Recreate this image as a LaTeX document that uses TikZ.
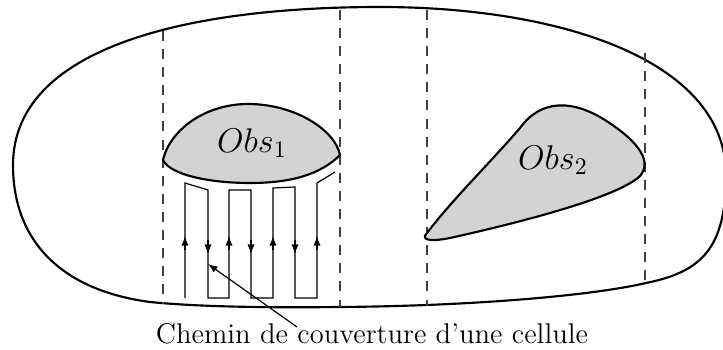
\documentclass[tikz,border=0pt]{standalone}
\usetikzlibrary{arrows.meta}

\definecolor{obsgray}{RGB}{211,211,211}

\begin{document}
\begin{tikzpicture}[
    x=0.42pt, y=-0.42pt,
    wall/.style={line width=0.9pt, line join=round},
    obstacle/.style={wall, fill=obsgray},
    cellline/.style={dashed, dash pattern=on 4.2pt off 3.4pt, draw=black!75, line width=0.45pt},
    sweep/.style={line width=0.5pt, line join=miter},
    tip/.style={-{Latex[length=4pt, width=3pt]}, line width=0.5pt},
]
\useasboundingbox (0,0) rectangle (723,349);

\draw[wall] (13,165) .. controls (13,50) and (180,7) .. (380,7)
    .. controls (560,7) and (726,60) .. (726,175)
    .. controls (726,250) and (700,272) .. (646,283)
    .. controls (590,296) and (470,306) .. (340,307)
    .. controls (250,308) and (190,306) .. (150,302)
    .. controls (60,290) and (13,240) .. cycle;

\foreach \x/\ya/\yb in {163/31/304, 340/10/307, 427/10/306, 645/53/283}
    \draw[cellline] (\x,\ya) -- (\x,\yb);

\draw[obstacle] (163,160) .. controls (170,130) and (205,104) .. (248,104)
    .. controls (295,104) and (335,130) .. (340,155)
    .. controls (320,175) and (290,183) .. (250,183)
    .. controls (210,183) and (170,175) .. cycle;
\node[font=\Large] (obs1) at (252,143) {$Obs_1$};

\draw[obstacle] (427,233) .. controls (452,200) and (488,165) .. (520,128)
    .. controls (540,100) and (572,98) .. (608,122)
    .. controls (640,143) and (652,162) .. (640,176)
    .. controls (620,195) and (540,218) .. (450,238)
    .. controls (430,242) and (420,240) .. cycle;
\node[font=\Large] (obs2) at (553,160) {$Obs_2$};

\draw[sweep] (185,298) -- (185,183) -- (208,190) -- (208,298) -- (229,298)
    -- (229,190) -- (251,190) -- (251,298) -- (273,298) -- (273,188)
    -- (295,187) -- (295,298) -- (317,298) -- (317,183) -- (335,172);

\foreach \x in {185, 229, 273, 317}
    \draw[tip] (\x,250) -- (\x,236);
\foreach \x in {208, 251, 295}
    \draw[tip] (\x,240) -- (\x,254);

\node[font=\large] (path) at (372,334) {Chemin de couverture d'une cellule};
\coordinate (tail) at (297,327);
\coordinate (target) at (208,264);
\draw[tip] (tail) -- (target);

\end{tikzpicture}
\end{document}
